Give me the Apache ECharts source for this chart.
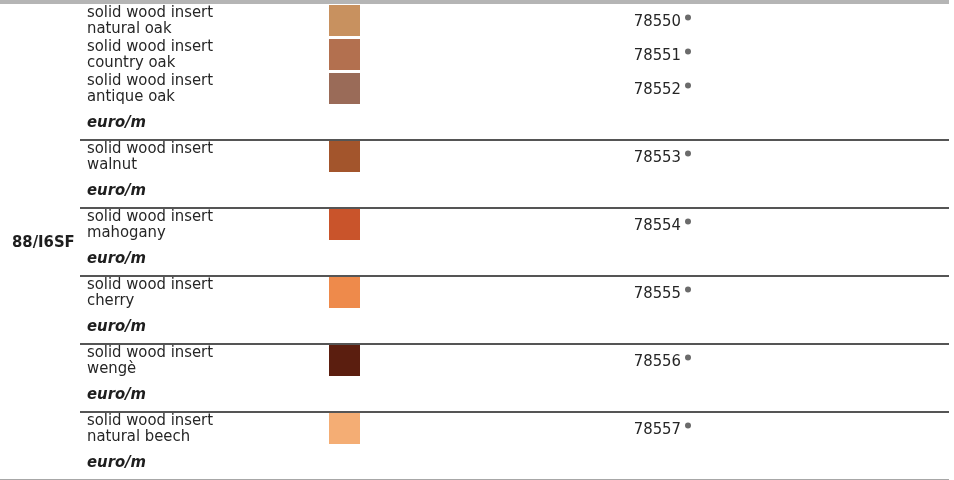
<!DOCTYPE html>
<html>
<head>
<meta charset="utf-8">
<title>88/I6SF solid wood inserts</title>
<script src="https://cdn.jsdelivr.net/npm/echarts@6/dist/echarts.min.js"></script>
<style>
  html, body { margin: 0; padding: 0; background: #fff; }
  #chart { width: 954px; height: 480px; }
</style>
</head>
<body>
<div id="chart"></div>
<script>
// table content
const modelName = '88/I6SF'
const productType = 'solid wood insert'
const finishes = ['natural oak', 'country oak', 'antique oak', 'walnut', 'mahogany', 'cherry', 'wengè', 'natural beech']
const codes = ['78550', '78551', '78552', '78553', '78554', '78555', '78556', '78557']
const finishColors = ['#c8915f', '#b3704f', '#9a6b58', '#a3552c', '#c9542b', '#ee8a4b', '#5b1e0f', '#f4ad74']
const groupSizes = [3, 1, 1, 1, 1, 1]
const priceUnit = 'euro/m'

// row layout: every item takes one row, every group ends with a price-unit row
const itemRows = []
const unitRows = []
const separatorRows = []
let row = 0
groupSizes.forEach(size => {
  for (let k = 0; k < size; k++) itemRows.push(row++)
  unitRows.push(row++)
  separatorRows.push(row)
})
const totalRows = row

// column positions (x axis runs in page pixels)
const COL_MODEL = 12
const COL_TEXT = 87
const COL_SWATCH = 344.5
const COL_DOT = 688
const LINE_START = 80
const LINE_END = 949

const FONT = "'Liberation Sans Narrow', 'DejaVu Sans Condensed', 'Roboto', sans-serif"
const TEXT_COLOR = '#262626'

const chart = echarts.init(document.getElementById('chart'))

const option = {
  animation: false,
  grid: { left: 0, right: 0, top: 3.5, bottom: 0.5 },
  xAxis: { type: 'value', min: 0, max: 954, show: false },
  yAxis: { type: 'value', min: 0, max: totalRows, inverse: true, show: false },
  graphic: [
    {
      type: 'rect',
      shape: { x: 0, y: 0, width: LINE_END, height: 4 },
      style: { fill: '#b5b5b5' },
      silent: true
    }
  ],
  series: [
    {
      // separators between groups
      type: 'line',
      data: [],
      markLine: {
        silent: true,
        symbol: ['none', 'none'],
        label: { show: false },
        data: separatorRows.map((r, i) => {
          const last = i === separatorRows.length - 1
          return [
            { coord: [last ? 0 : LINE_START, r], lineStyle: { color: last ? '#8a8a8a' : '#555', width: last ? 1.5 : 2, type: 'solid' } },
            { coord: [LINE_END, r] }
          ]
        })
      }
    },
    {
      // finish swatches
      type: 'scatter',
      symbol: 'rect',
      symbolSize: 31,
      silent: true,
      itemStyle: { opacity: 1 },
      data: finishes.map((f, i) => ({
        value: [COL_SWATCH, itemRows[i] + 0.5],
        itemStyle: { color: finishColors[i], opacity: 1 }
      }))
    },
    {
      // descriptions
      type: 'scatter',
      symbolSize: 0,
      silent: true,
      itemStyle: { opacity: 1 },
      data: finishes.map((f, i) => ({ value: [COL_TEXT, itemRows[i] + 0.5], name: f })),
      label: {
        show: true,
        position: 'right',
        distance: 0,
        align: 'left',
        verticalAlign: 'middle',
        fontFamily: FONT,
        fontSize: 16.5,
        lineHeight: 16,
        color: TEXT_COLOR,
        formatter: p => productType + '\n' + p.name
      }
    },
    {
      // price unit rows
      type: 'scatter',
      symbolSize: 0,
      silent: true,
      itemStyle: { opacity: 1 },
      data: unitRows.map(r => [COL_TEXT, r + 0.5]),
      label: {
        show: true,
        position: 'right',
        distance: 0,
        align: 'left',
        verticalAlign: 'middle',
        fontFamily: FONT,
        fontSize: 16.5,
        fontWeight: 'bold',
        fontStyle: 'italic',
        color: '#1e1e1e',
        formatter: priceUnit
      }
    },
    {
      // article codes with dot
      type: 'scatter',
      symbol: 'circle',
      symbolSize: 6,
      symbolOffset: [0, -3],
      silent: true,
      itemStyle: { color: '#6b6b6b', opacity: 1 },
      data: codes.map((c, i) => ({ value: [COL_DOT, itemRows[i] + 0.5], name: c })),
      label: {
        show: true,
        position: 'left',
        distance: 4,
        offset: [0, 4],
        fontFamily: FONT,
        fontSize: 16.5,
        color: TEXT_COLOR,
        formatter: p => p.name
      }
    },
    {
      // model name
      type: 'scatter',
      symbolSize: 0,
      silent: true,
      itemStyle: { opacity: 1 },
      data: [{ value: [COL_MODEL, totalRows / 2], name: modelName }],
      label: {
        show: true,
        position: 'right',
        distance: 0,
        align: 'left',
        verticalAlign: 'middle',
        offset: [0, 1.5],
        fontFamily: FONT,
        fontSize: 16.5,
        fontWeight: 'bold',
        color: '#1e1e1e',
        formatter: p => p.name
      }
    }
  ]
}

chart.setOption(option)
</script>
</body>
</html>
